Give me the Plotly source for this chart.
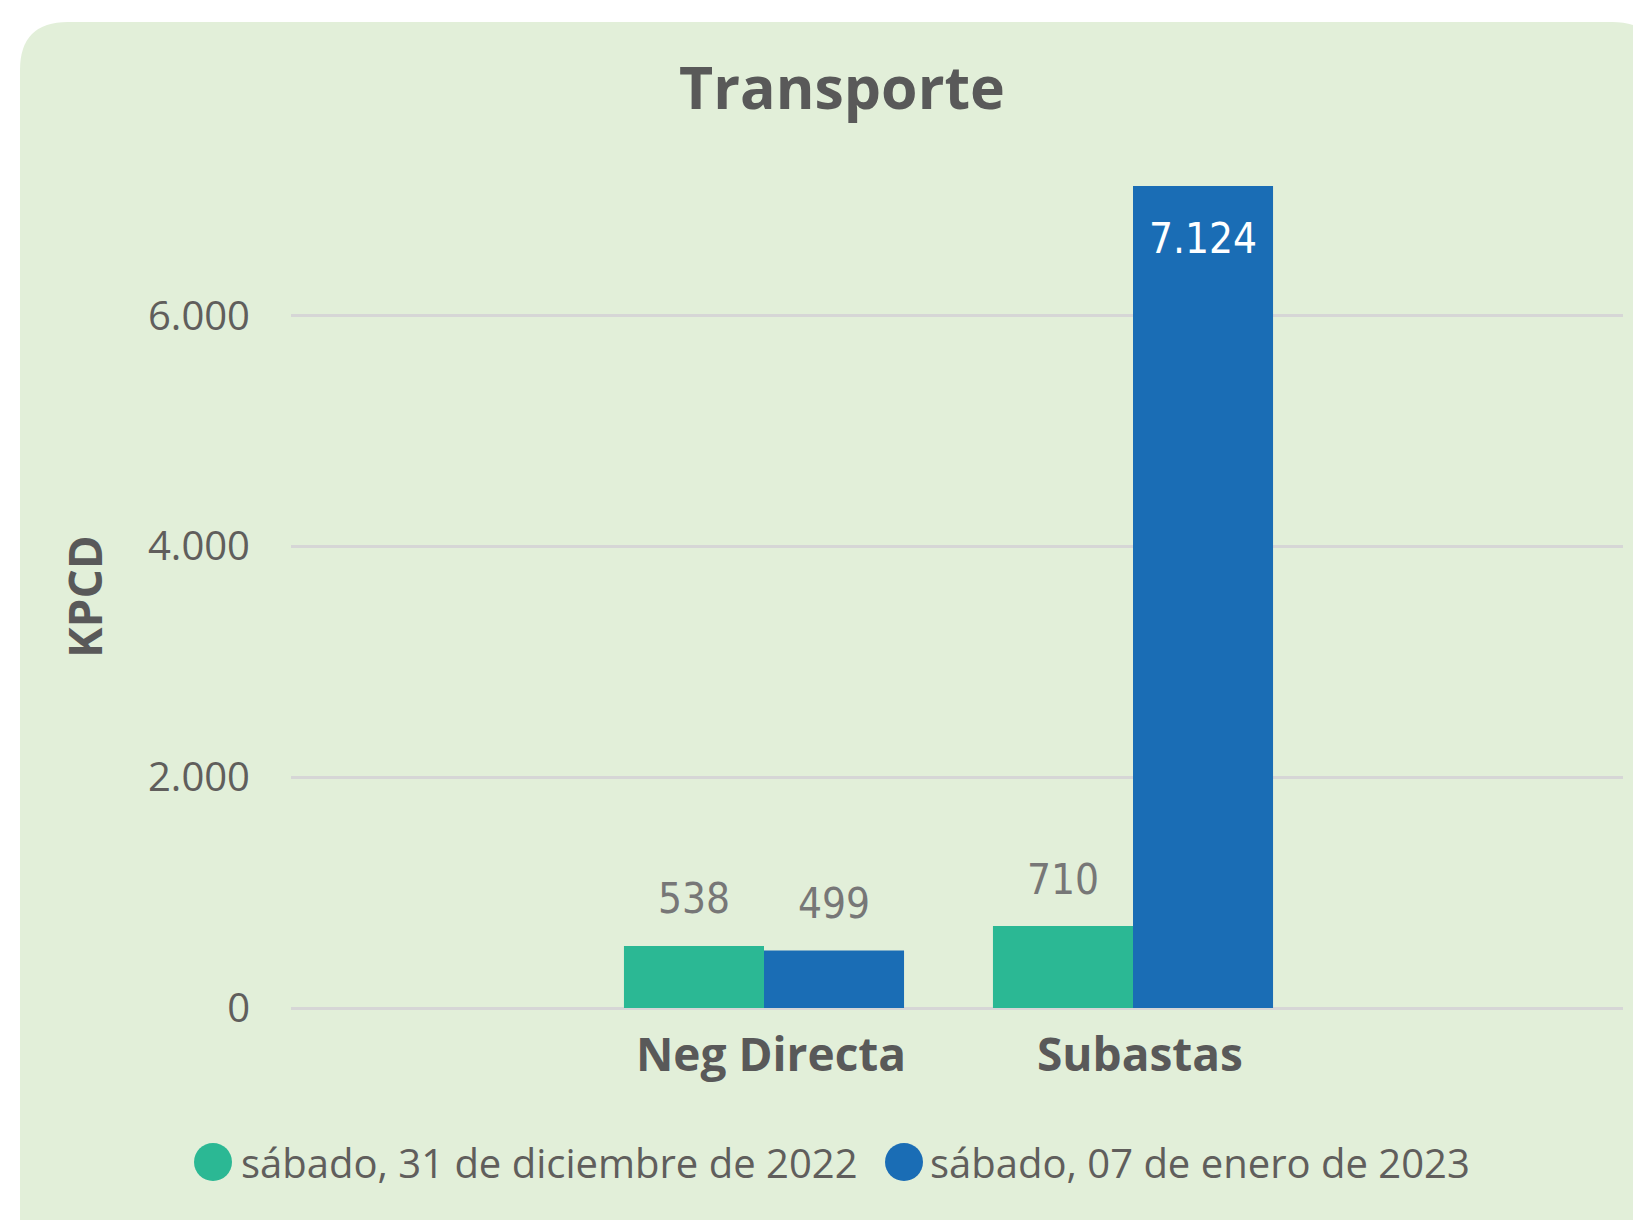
import plotly.graph_objects as go

# ---- data ----
categories = ["Neg Directa", "Subastas"]
series_names = ["sábado, 31 de diciembre de 2022", "sábado, 07 de enero de 2023"]
values_dec31 = [538, 710]
values_jan07 = [499, 7124]
y_tick_vals = [0, 2000, 4000, 6000]
y_tick_text = ["0", "2.000", "4.000", "6.000"]
title_text = "Transporte"
y_title = "KPCD"

colors = ["#2BB894", "#1A6DB5"]
series_values = [values_dec31, values_jan07]

# ---- layout geometry (screen pixels; the page body has an 8px margin) ----
OFF = 8
FW, FH = 1641, 1220 - OFF
L, R, T, B = 291 - OFF, 1623 - OFF, 186 - OFF, 1008 - OFF
W, H = R - L, B - T
CAT0, CAT_STEP = 764 - OFF, 369
BARGAP = 0.241


def px2x(px):
    return (px - OFF - L) / W


def py2y(py):
    return (B - (py - OFF)) / H


def fmt(v):
    return f"{v:,}".replace(",", ".")


fig = go.Figure()
for name, vals, col in zip(series_names, series_values, colors):
    fig.add_trace(go.Bar(
        x=categories, y=vals, name=name, marker=dict(color=col, line=dict(width=0)),
        showlegend=False, hoverinfo="x+y",
    ))

ymax = max(max(v) for v in series_values)

annotations = []
bar_w = (1 - BARGAP) / len(series_values)
for si, vals in enumerate(series_values):
    off = (si - (len(series_values) - 1) / 2) * bar_w
    for ci, v in enumerate(vals):
        inside = v > 0.8 * ymax
        annotations.append(dict(
            x=ci + off, y=v, xref="x", yref="y", text=fmt(v), showarrow=False,
            xanchor="center", yanchor="middle",
            yshift=-52 if inside else 47,
            font=dict(family="Liberation Sans Narrow, DejaVu Sans Condensed, sans-serif",
                      size=42, color="#FFFFFF" if inside else "#777777"),
        ))

# y axis title
annotations.append(dict(
    x=px2x(84), y=0.5, xref="paper", yref="paper", text=f"<b>{y_title}</b>",
    textangle=-90, showarrow=False, xanchor="center", yanchor="middle",
    font=dict(family="Open Sans", size=46, color="#595959"),
))

# manual legend
legend_pos = [(213, 239), (904, 928)]
shapes = []
for (cx, tx), name, col in zip(legend_pos, series_names, colors):
    shapes.append(dict(
        type="circle", xref="paper", yref="paper", xsizemode="pixel", ysizemode="pixel",
        xanchor=px2x(cx), yanchor=py2y(1162), x0=-19, x1=19, y0=-19, y1=19,
        fillcolor=col, line=dict(width=0),
    ))
    annotations.append(dict(
        x=px2x(tx), y=py2y(1162), xref="paper", yref="paper", text=name, showarrow=False,
        xanchor="left", yanchor="middle",
        font=dict(family="Open Sans", size=40, color="#605E5C"),
    ))

# card background
cl, ct, cr, cb, rad = 20, 22, 1660, 1300, 48
path = (
    f"M {px2x(cl)},{py2y(ct + rad)} "
    f"Q {px2x(cl)},{py2y(ct)} {px2x(cl + rad)},{py2y(ct)} "
    f"L {px2x(cr - rad)},{py2y(ct)} "
    f"Q {px2x(cr)},{py2y(ct)} {px2x(cr)},{py2y(ct + rad)} "
    f"L {px2x(cr)},{py2y(cb)} L {px2x(cl)},{py2y(cb)} Z"
)
shapes.insert(0, dict(type="path", path=path, xref="paper", yref="paper",
                      fillcolor="#E2EFD9", line=dict(width=0), layer="below"))

fig.update_layout(
    width=FW, height=FH,
    margin=dict(l=L, r=FW - R, t=T, b=FH - B, pad=0),
    paper_bgcolor="#FFFFFF", plot_bgcolor="rgba(0,0,0,0)",
    barmode="group", bargap=BARGAP, bargroupgap=0,
    title=dict(text=f"<b>{title_text}</b>", x=(842 - OFF) / FW, xanchor="center",
               y=1 - (88 - OFF) / FH, yanchor="middle",
               font=dict(family="Open Sans", size=59, color="#595959")),
    xaxis=dict(
        type="category", range=[(L - CAT0) / CAT_STEP, (R - CAT0) / CAT_STEP],
        showgrid=False, zeroline=False, showline=False, ticks="",
        tickfont=dict(family="Open Sans", size=46, color="#595959"),
        ticklabelstandoff=16, ticklabelshift=7, fixedrange=True,
    ),
    yaxis=dict(
        range=[0, ymax], tickvals=y_tick_vals, ticktext=y_tick_text,
        showgrid=True, gridcolor="#D6D6D6", gridwidth=3,
        zeroline=True, zerolinecolor="#D6D6D6", zerolinewidth=3,
        showline=False, ticks="",
        tickfont=dict(family="Open Sans", size=40, color="#605E5C"),
        ticklabelstandoff=40, fixedrange=True,
    ),
    annotations=annotations, shapes=shapes, showlegend=False,
)

# make category labels bold
fig.update_xaxes(tickvals=categories, ticktext=[f"<b>{c}</b>" for c in categories])

fig.write_html("out.html")
